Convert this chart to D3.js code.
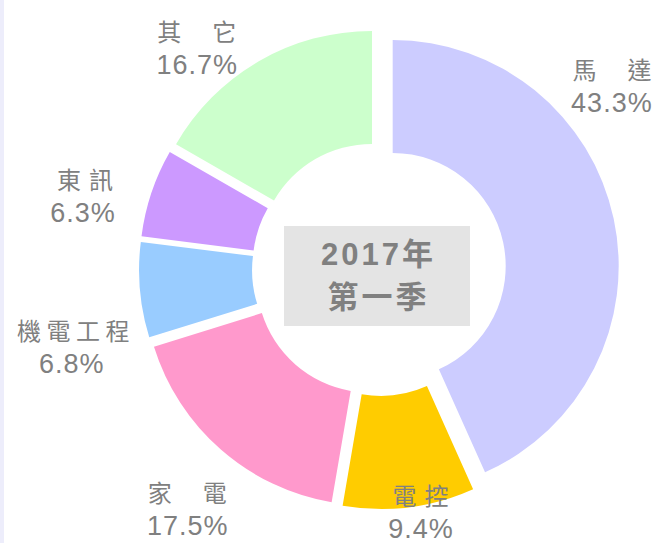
<!DOCTYPE html>
<html><head><meta charset="utf-8">
<script src="https://cdn.jsdelivr.net/npm/d3@7"></script>
<style>
html,body{margin:0;padding:0;background:#fff;}
svg{display:block;}
</style></head>
<body>
<svg id="chart" width="658" height="543"></svg>
<script>
// ---- data ----
const categories = ["馬  達", "電 控", "家  電", "機電工程", "東 訊", "其  它"];
const shares = [43.3, 9.4, 17.5, 6.8, 6.3, 16.7];
const colors = ["#ccccff", "#ffcc00", "#ff99cc", "#99ccff", "#cc99ff", "#ccffcc"];
const centerTitle = ["2017年", "第一季"];

// ---- layout ----
const W = 658, H = 543;
const cx = 379, cy = 269;
const outerR = 226, innerR = 113, explode = 14, labelR = 300;
// label nudges (layout only) from radial anchor
const labelNudge = [[-61, -94], [4, -29], [6, 40], [-9, 78], [-12, 48], [-32, 65]];

const svg = d3.select("#chart");
svg.append("rect").attr("x", 0).attr("y", 0).attr("width", 4).attr("height", H).attr("fill", "#ededfb");

const pie = d3.pie().sort(null).value(d => d)(shares);
const arc = d3.arc().innerRadius(innerR).outerRadius(outerR);
const g = svg.append("g").attr("transform", `translate(${cx},${cy})`);

g.selectAll("path.slice").data(pie).enter().append("path")
  .attr("class", "slice")
  .attr("d", arc)
  .attr("fill", (d, i) => colors[i])
  .attr("transform", d => {
    const m = (d.startAngle + d.endAngle) / 2;
    return `translate(${Math.sin(m) * explode},${-Math.cos(m) * explode})`;
  });

// helper: center a letter-spaced text without trailing spacing
function centerSpaced(sel, ls) {
  sel.each(function () {
    const t = d3.select(this);
    const cxv = +t.attr("data-cx");
    const w = this.getComputedTextLength() - ls;
    t.attr("text-anchor", "start").attr("x", cxv - w / 2);
  });
}

// center box
const box = svg.append("g");
box.append("rect").attr("x", 284).attr("y", 226).attr("width", 186).attr("height", 100).attr("fill", "#e4e4e4");
box.selectAll("text").data(centerTitle).enter().append("text")
  .attr("data-cx", 377)
  .attr("y", (d, i) => i === 0 ? 265 : 308)
  .attr("font-family", "'Liberation Sans', Arial, 'Noto Sans CJK TC', sans-serif")
  .attr("font-weight", "bold")
  .attr("font-size", 31)
  .attr("letter-spacing", 3)
  .attr("fill", "#808080")
  .text(d => d)
  .call(centerSpaced, 3);

// labels
const lbl = svg.selectAll("g.lbl").data(pie).enter().append("g")
  .attr("class", "lbl")
  .attr("transform", (d, i) => {
    const m = (d.startAngle + d.endAngle) / 2;
    const x = cx + Math.sin(m) * labelR + labelNudge[i][0];
    const y = cy - Math.cos(m) * labelR + labelNudge[i][1];
    return `translate(${x},${y})`;
  });

// category names: glyphs spaced by explicit dx (gap depends on number of spaces)
const nameFs = 24, gapBySpaces = [5.5, 8, 31];
const nameShiftX = [0.5, 0, 0, 2, 2.5, 0];
lbl.append("text")
  .attr("y", -33)
  .attr("font-family", "'Noto Sans CJK TC', sans-serif")
  .attr("font-size", nameFs)
  .attr("fill", "#808080")
  .each(function (d, i) {
    const chars = Array.from(categories[i]);
    const t = d3.select(this);
    let spaces = 0, first = true, total = 0;
    const parts = [];
    chars.forEach(c => {
      if (c === " ") { spaces++; return; }
      const dx = first ? 0 : gapBySpaces[Math.min(spaces, 2)];
      parts.push({ c, dx });
      total += dx + nameFs;
      spaces = 0; first = false;
    });
    t.attr("x", -total / 2 + nameShiftX[i]);
    t.selectAll("tspan").data(parts).enter().append("tspan")
      .attr("dx", p => p.dx)
      .text(p => p.c);
  });

lbl.append("text")
  .attr("data-cx", 0).attr("y", 0)
  .attr("font-family", "'Liberation Sans', Arial, sans-serif")
  .attr("font-size", 27)
  .attr("letter-spacing", 1)
  .attr("fill", "#808080")
  .text(d => d.data.toFixed(1) + "%")
  .call(centerSpaced, 1);
</script>
</body></html>
